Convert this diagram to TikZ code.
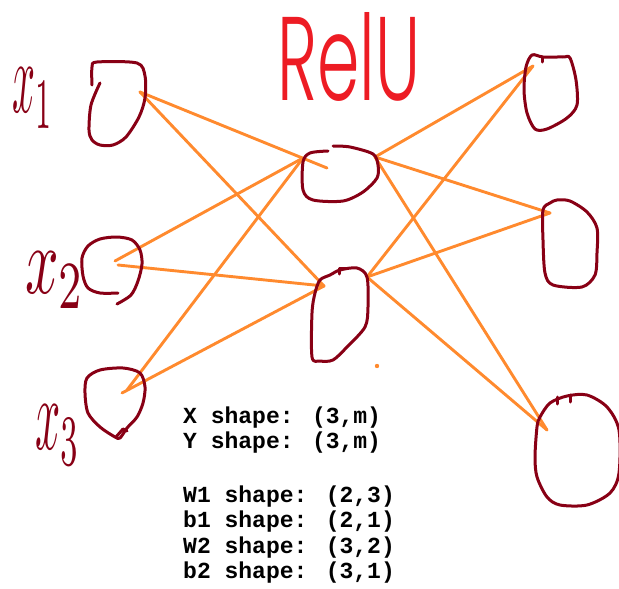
\documentclass[tikz,border=0pt]{standalone}
\usepackage{fontspec}
\usepackage{graphicx}
\newfontfamily\codefont{Liberation Mono}
\newfontfamily\handfont{Liberation Sans}
\newfontfamily\thinfont{Poppins Light}
\definecolor{maroonc}{RGB}{136,0,21}
\definecolor{orangec}{RGB}{255,138,46}
\definecolor{redc}{RGB}{237,28,36}
\begin{document}
\begin{tikzpicture}[x=1pt,y=-1pt,
  blob/.style={draw=maroonc, line width=3pt, line cap=round, line join=round},
  link/.style={draw=orangec, line width=2.9pt, line cap=round},
  codeline/.style={anchor=base west, inner sep=0pt, font=\codefont\bfseries\fontsize{23}{26}\selectfont},
  hand/.style={anchor=north west, inner sep=0pt, text=maroonc, font=\handfont}]
\useasboundingbox (0,0) rectangle (619,589);

% ---- ports (connector end points) ----
\coordinate (px1) at (140,92);
\coordinate (px2a) at (115,261);
\coordinate (px2b) at (118,265);
\coordinate (px3a) at (127,390);
\coordinate (px3b) at (122,393);
\coordinate (ph1a) at (327,168);
\coordinate (ph1L) at (303,158);
\coordinate (ph2L) at (324,286);
\coordinate (ph1R) at (375,157);
\coordinate (ph2R) at (367,277);
\coordinate (po1) at (533,66);
\coordinate (po2) at (550,213);
\coordinate (po3) at (547,430);

% ---- connectors ----
\draw[link] (px1) -- (ph1a);
\draw[link] (px1) -- (ph2L);
\draw[link] (px2a) -- (ph1L);
\draw[link] (px2b) -- (ph2L);
\draw[link] (px3a) -- (ph1L);
\draw[link] (px3b) -- (ph2L);
\draw[link] (ph1R) -- (po1);
\draw[link] (ph1R) -- (po2);
\draw[link] (ph1R) -- (po3);
\draw[link] (ph2R) -- (po1);
\draw[link] (ph2R) -- (po2);
\draw[link] (ph2R) -- (po3);
\fill[orangec] (377,366) circle (2.2pt);

% ---- neurons (hand drawn blobs) ----
% input x1
\draw[blob] plot[smooth, tension=0.5] coordinates {(100,83) (91,105) (89,130) (92,140) (100,145) (113,145) (126,137) (139,117) (145,98) (145,76) (137,63) (97,62) (92,67) (92,85)};
% input x2
\draw[blob] plot[smooth, tension=0.5] coordinates {(118,293) (100,293) (88,288) (83,276) (82,258) (88,246) (100,239) (117,237) (132,240) (140,250) (142,264) (138,281) (131,295) (117,304)};
% input x3
\draw[blob] plot[smooth cycle, tension=0.5] coordinates {(100,370) (123,368) (140,373) (145,387) (143,403) (137,417) (127,428) (120,438) (115,437) (100,427) (88,413) (85,393) (87,378)};
\draw[blob] (116,437) -- (123,429) -- (127,431);
% hidden h1
\draw[blob] plot[smooth, tension=0.5] coordinates {(333,146) (350,147) (373,154) (378,165) (377,178) (363,192) (343,201) (313,200) (303,190) (303,162) (310,153) (328,151)};
% hidden h2
\draw[blob] plot[smooth cycle, tension=0.5] coordinates {(340,270) (357,268) (367,277) (368,307) (365,327) (347,347) (333,360) (320,361) (312,357) (312,313) (315,293) (320,280) (330,275)};
\draw[blob] (339,274) -- (339,268) -- (346,268);
% output o1
\draw[blob] plot[smooth cycle, tension=0.5] coordinates {(532,55) (526,67) (524,90) (527,113) (535,129) (547,129) (567,118) (577,105) (576,80) (570,58) (563,57) (543,57)};
\draw[blob] (542,57) -- (542,62);
% output o2
\draw[blob] plot[smooth cycle, tension=0.5] coordinates {(550,203) (543,210) (543,240) (545,273) (553,285) (582,287) (595,275) (597,253) (597,228) (587,212) (570,201) (557,200)};
% output o3
\draw[blob] plot[smooth cycle, tension=0.5] coordinates {(537,427) (535,457) (537,477) (547,497) (560,505) (587,505) (610,493) (619,473) (619,430) (607,407) (587,395) (567,396) (550,403) (540,417)};
\draw[blob] (557,397) -- (557,404);
\draw[blob] (570,395) -- (570,402);

% ---- hand written labels ----
\node[hand] (lx1) at (12,68) {\resizebox*{41pt}{60pt}{\(x_1\)}};
\node[hand] (lx2) at (25,252) {\resizebox*{60pt}{56pt}{\(x_2\)}};
\node[hand] (lx3) at (35,405) {\resizebox*{45pt}{60pt}{\(x_3\)}};
\node[anchor=south west, inner sep=0pt, text=redc, font=\thinfont] (relu) at (277,102) {\resizebox{143pt}{88pt}{RelU}};

% ---- shapes text ----
\node[codeline] (t1) at (183,423) {X shape: (3,m)};
\node[codeline] (t2) at (183,448) {Y shape: (3,m)};
\node[codeline] (t3) at (183,502) {W1 shape: (2,3)};
\node[codeline] (t4) at (183,527.5) {b1 shape: (2,1)};
\node[codeline] (t5) at (183,553) {W2 shape: (3,2)};
\node[codeline] (t6) at (183,578.5) {b2 shape: (3,1)};
\end{tikzpicture}
\end{document}
